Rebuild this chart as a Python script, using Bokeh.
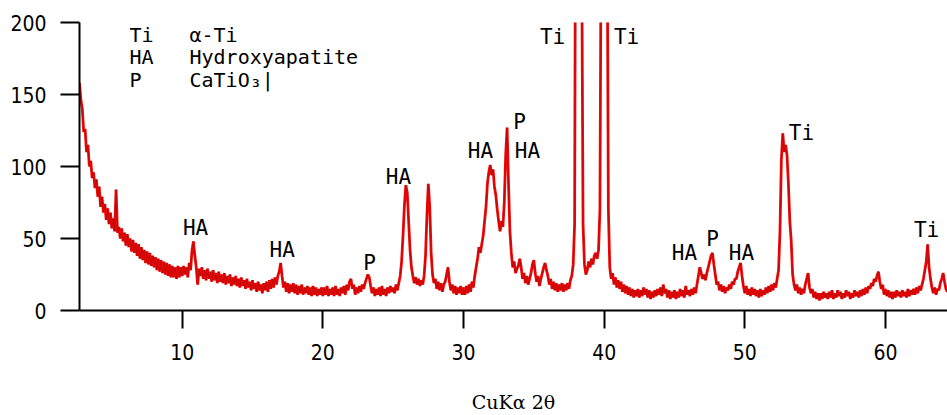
import numpy as np
from bokeh.plotting import figure
from bokeh.models import Range1d, FixedTicker, ColumnDataSource
from bokeh.embed import file_html
from bokeh.resources import INLINE
from bokeh.core.properties import value

# ---------------- data ----------------
STEP = 0.1  # degrees 2-theta between points
seg_starts = [2.7, 10.0, 20.0, 30.0, 40.0, 50.0, 60.0]

counts_a = [158, 146, 140, 124, 126, 110, 115, 100, 104, 92,
            96, 85, 91, 79, 86, 72, 79, 68, 74, 63,
            71, 60, 68, 57, 64, 55, 84, 54, 58, 50,
            57, 48, 54, 45, 53, 44, 50, 41, 49, 40,
            47, 38, 46, 36, 44, 35, 42, 33, 41, 32,
            40, 31, 38, 30, 37, 28, 36, 27, 35, 26,
            34, 25, 33, 24, 32, 23, 31, 23, 30, 22,
            31, 23, 30]
counts_b = [24, 31, 25, 30, 23, 33, 28, 42, 48, 38,
            30, 18, 29, 24, 30, 22, 28, 21, 29, 22,
            27, 20, 28, 21, 26, 19, 27, 20, 25, 19,
            26, 18, 24, 19, 25, 17, 23, 18, 24, 17,
            22, 16, 23, 17, 21, 15, 22, 16, 20, 14,
            21, 15, 19, 13, 20, 14, 18, 12, 19, 14,
            20, 13, 21, 15, 22, 16, 23, 18, 24, 27,
            33, 24, 16, 20, 13, 19, 12, 18, 13, 19,
            12, 18, 11, 17, 12, 18, 11, 16, 12, 17,
            11, 16, 10, 17, 11, 16, 10, 15, 11, 16]
counts_c = [10, 16, 11, 17, 10, 15, 11, 16, 10, 17,
            11, 15, 10, 16, 12, 17, 11, 18, 14, 20,
            22, 15, 18, 11, 16, 12, 17, 13, 18, 15,
            19, 22, 25, 23, 17, 12, 16, 10, 15, 11,
            16, 10, 17, 11, 15, 10, 16, 12, 17, 13,
            16, 12, 18, 14, 19, 24, 34, 52, 73, 87,
            82, 62, 42, 30, 24, 19, 23, 18, 22, 17,
            21, 18, 24, 38, 66, 88, 72, 40, 25, 19,
            22, 15, 20, 14, 19, 13, 18, 20, 25, 30,
            20, 14, 18, 12, 17, 11, 16, 12, 17, 11]
counts_d = [16, 11, 17, 12, 18, 13, 20, 16, 24, 30,
            36, 44, 40, 46, 52, 62, 72, 88, 96, 101,
            94, 98, 86, 80, 70, 62, 55, 62, 58, 75,
            108, 127, 88, 55, 40, 30, 34, 26, 29, 31,
            36, 30, 22, 26, 19, 24, 18, 22, 26, 32,
            35, 26, 20, 24, 17, 22, 26, 30, 33, 28,
            24, 18, 22, 15, 20, 14, 19, 13, 18, 14,
            19, 13, 18, 14, 19, 15, 21, 24, 32, 60,
            420, 700, 760, 650, 260, 60, 32, 25, 28, 34,
            30, 36, 32, 38, 40, 36, 42, 70, 300, 800]
counts_e = [900, 700, 300, 70, 30, 22, 26, 18, 23, 16,
            21, 15, 20, 13, 18, 12, 17, 11, 16, 10,
            15, 9, 14, 10, 15, 9, 14, 10, 16, 11,
            15, 9, 14, 8, 13, 9, 14, 10, 15, 11,
            16, 10, 18, 12, 15, 9, 14, 8, 13, 9,
            14, 8, 13, 9, 15, 10, 14, 9, 17, 11,
            14, 10, 15, 11, 16, 12, 18, 24, 30, 26,
            22, 25, 21, 26, 30, 34, 38, 40, 32, 25,
            18, 20, 14, 18, 13, 17, 12, 16, 14, 18,
            15, 20, 18, 22, 22, 27, 30, 33, 24, 17]
counts_f = [12, 17, 11, 15, 10, 16, 11, 15, 10, 14,
            9, 15, 10, 14, 11, 16, 12, 17, 13, 18,
            14, 19, 16, 22, 28, 55, 105, 123, 110, 115,
            108, 88, 62, 48, 25, 18, 14, 18, 12, 16,
            11, 15, 12, 18, 22, 26, 16, 12, 15, 9,
            13, 8, 12, 7, 12, 8, 13, 9, 12, 8,
            13, 9, 14, 8, 12, 9, 14, 10, 13, 8,
            12, 9, 14, 10, 13, 8, 12, 9, 14, 10,
            13, 9, 14, 10, 15, 11, 16, 12, 17, 15,
            19, 17, 22, 20, 24, 27, 20, 15, 18, 11]
counts_g = [15, 10, 14, 9, 13, 8, 13, 9, 14, 10,
            13, 9, 14, 10, 13, 9, 15, 10, 14, 11,
            15, 11, 16, 12, 17, 14, 18, 22, 28, 34,
            46, 30, 22, 16, 12, 16, 11, 15, 14, 19,
            22, 26, 20, 15, 13]

x_ticks = [10, 20, 30, 40, 50, 60]
y_ticks = [0, 50, 100, 150, 200]

# peak annotations: phase symbol, 2-theta and height where the label sits
peak_text = ["HA", "HA", "P", "HA", "HA", "P", "HA", "Ti", "Ti",
             "HA", "P", "HA", "Ti", "Ti"]
peak_theta = [10.95, 17.11, 23.32, 25.38, 31.21, 33.98, 34.55, 36.33, 41.59,
              45.71, 47.70, 49.76, 54.03, 62.92]
peak_height = [57, 42, 33, 93, 111, 131, 111, 190, 190,
               40, 50, 40, 123, 56]

legend_symbol = ["Ti", "HA", "P"]
legend_phase = ["α-Ti", "Hydroxyapatite", "CaTiO₃|"]

x_label = "CuKα 2θ"

# ---------------- build ----------------
xs, ys = [], []
for start, seg in zip(seg_starts, [counts_a, counts_b, counts_c, counts_d,
                                   counts_e, counts_f, counts_g]):
    xs.extend((start + STEP * np.arange(len(seg))).tolist())
    ys.extend(seg)

p = figure(width=947, height=415, output_backend="svg", toolbar_location=None,
           x_range=Range1d(2.7, 64.41), y_range=Range1d(0, 200),
           min_border_left=79, min_border_right=0,
           min_border_top=22, min_border_bottom=105)
p.outline_line_color = None
p.grid.visible = False
p.background_fill_color = "white"
p.border_fill_color = "white"

p.line(xs, ys, line_color="#ee0a0a", line_width=2.8)
p.line(xs, ys, line_color="#a00000", line_width=0.8, line_alpha=0.55)

tick_font = "'DejaVu Sans Condensed', 'DejaVu Sans', sans-serif"
for ax in (p.xaxis[0], p.yaxis[0]):
    ax.axis_line_width = 2
    ax.axis_line_color = "black"
    ax.major_tick_line_width = 2
    ax.major_tick_line_color = "black"
    ax.major_tick_in = 0
    ax.minor_tick_in = 0
    ax.minor_tick_out = 0
    ax.major_label_text_font = tick_font
    ax.major_label_text_font_size = "21px"
    ax.major_label_text_color = "black"

p.xaxis[0].ticker = FixedTicker(ticks=x_ticks)
p.yaxis[0].ticker = FixedTicker(ticks=y_ticks)
p.xaxis[0].major_tick_out = 18
p.yaxis[0].major_tick_out = 19
p.xaxis[0].major_label_standoff = 15
p.yaxis[0].major_label_standoff = 14

p.xaxis[0].axis_label = x_label
p.xaxis[0].axis_label_text_font = "'DejaVu Serif', serif"
p.xaxis[0].axis_label_text_font_style = "normal"
p.xaxis[0].axis_label_text_font_size = "19px"
p.xaxis[0].axis_label_text_color = "black"
p.xaxis[0].axis_label_standoff = 28

mono = value("DejaVu Sans Mono")
src = ColumnDataSource(dict(x=peak_theta, y=peak_height, t=peak_text))
p.text(x="x", y="y", text="t", source=src, text_font=mono,
       text_font_size="21px", text_align="center", text_baseline="middle",
       text_color="black")

leg_rows = [191, 175.7, 160.4]
p.text(x=[6.25] * 3, y=leg_rows, text=legend_symbol, text_font=mono,
       text_font_size="20px", text_align="left", text_baseline="middle",
       text_color="black")
p.text(x=[10.52] * 3, y=leg_rows, text=legend_phase, text_font=mono,
       text_font_size="20px", text_align="left", text_baseline="middle",
       text_color="black")

open("out.html", "w").write(file_html(p, INLINE))
